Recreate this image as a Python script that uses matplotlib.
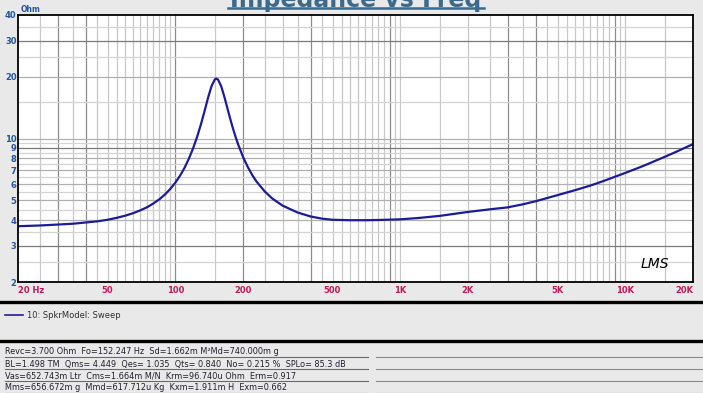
import numpy as np
import matplotlib.pyplot as plt
from matplotlib.lines import Line2D

# impedance curve (Hz, Ohm)
freq = [20, 25, 30, 35, 40, 45, 50, 55, 60, 65, 70, 75, 80, 85, 90, 95, 100,
        105, 110, 115, 120, 125, 130, 135, 140, 145, 150, 152, 155, 160, 165,
        170, 175, 180, 185, 190, 200, 210, 220, 230, 250, 270, 300, 350, 400,
        450, 500, 600, 700, 800, 1000, 1200, 1500, 2000, 2500, 3000, 3500,
        4000, 5000, 6000, 7000, 8000, 10000, 12000, 15000, 17000, 20000]
ohm = [3.74, 3.77, 3.81, 3.845, 3.90, 3.95, 4.02, 4.11, 4.21, 4.33, 4.47, 4.63,
       4.83, 5.06, 5.34, 5.68, 6.09, 6.59, 7.21, 7.99, 8.96, 10.18, 11.72,
       13.64, 15.86, 18.04, 19.44, 19.6, 19.36, 17.99, 16.08, 14.22, 12.62,
       11.31, 10.26, 9.41, 8.14, 7.27, 6.63, 6.16, 5.52, 5.10, 4.71, 4.36,
       4.17, 4.07, 4.02, 4.0, 4.0, 4.01, 4.04, 4.1, 4.2, 4.39, 4.52, 4.62,
       4.78, 4.95, 5.3, 5.61, 5.9, 6.21, 6.8, 7.35, 8.15, 8.66, 9.4]

x_ticks = [20, 50, 100, 200, 500, 1000, 2000, 5000, 10000, 20000]
x_labels = ['20 Hz', '50', '100', '200', '500', '1K', '2K', '5K', '10K', '20K']
y_ticks = [2, 3, 4, 5, 6, 7, 8, 9, 10, 20, 30, 40]

legend_label = '10: SpkrModel: Sweep'
params = [
    'Revc=3.700 Ohm  Fo=152.247 Hz  Sd=1.662m M²Md=740.000m g',
    'BL=1.498 TM  Qms= 4.449  Qes= 1.035  Qts= 0.840  No= 0.215 %  SPLo= 85.3 dB',
    'Vas=652.743m Ltr  Cms=1.664m M/N  Krm=96.740u Ohm  Erm=0.917',
    'Mms=656.672m g  Mmd=617.712u Kg  Kxm=1.911m H  Exm=0.662',
]

W, H = 703, 393
bg = '#e9e9e9'
fig = plt.figure(figsize=(W / 100, H / 100), dpi=100, facecolor=bg)
ax = fig.add_axes([18 / W, 1 - 282 / H, 675 / W, 267 / H])
ax.set_facecolor('white')
ax.set_xscale('log')
ax.set_yscale('log')
ax.set_xlim(20, 20000)
ax.set_ylim(2, 40)

# grid
dark_x = {30, 40, 100, 200, 400, 900, 3000, 4000, 9000}
vgrid = list(range(25, 100, 5)) + list(range(100, 1000, 50)) + \
    list(range(1000, 10000, 500)) + [10000, 15000]
for v in vgrid:
    c = '#8c8c8c' if v in dark_x else '#c8c8c8'
    ax.axvline(v, color=c, lw=0.9, zorder=1)
hgrid = [2.5, 3, 3.5, 4, 4.5, 5, 5.5, 6, 6.5, 7, 7.5, 8, 8.5, 9, 9.5, 10,
         15, 20, 25, 30, 35]
for h in hgrid:
    if h in (3, 9, 30):
        c = '#7a7a7a'
    elif h in (4, 5, 6, 7, 8, 10, 20):
        c = '#b0b0b0'
    else:
        c = '#d4d4d4'
    ax.axhline(h, color=c, lw=0.9, zorder=1)

ax.plot(freq, ohm, color='#1c1c96', lw=1.6, zorder=3)

for s in ax.spines.values():
    s.set_linewidth(1.3)
    s.set_color('black')
    s.set_zorder(5)

ax.tick_params(which='both', length=0)
ax.xaxis.set_minor_locator(plt.NullLocator())
ax.yaxis.set_minor_locator(plt.NullLocator())
ax.set_xticks(x_ticks)
ax.set_xticklabels(x_labels, color='#c0185a', fontsize=6, fontweight='bold')
ax.tick_params(axis='x', pad=3)
ax.get_xticklabels()[0].set_horizontalalignment('left')
ax.get_xticklabels()[-1].set_horizontalalignment('right')
ax.set_yticks(y_ticks)
ax.set_yticklabels([str(v) for v in y_ticks], color='#2455a0', fontsize=6,
                   fontweight='bold')
ax.tick_params(axis='y', pad=1)

fig.text(21 / W, 1 - 12 / H, 'Ohm', color='#2455a0', fontsize=5.5,
         fontweight='bold')
ax.text(0.965, 0.04, 'LMS', transform=ax.transAxes, fontsize=10,
        fontstyle='italic', ha='right', va='bottom', color='black', zorder=6)

# title, clipped at the top like the reference
fig.text(356 / W, 1 - 7 / H, 'Impedance vs Freq', ha='center', va='baseline',
         fontsize=17, fontweight='bold', color='#3b6a8c')
fig.add_artist(Line2D([228 / W, 484 / W], [1 - 7.5 / H, 1 - 7.5 / H],
                      color='#3b6a8c', lw=1.8))

# bottom panels
for yy in (302, 341):
    fig.add_artist(Line2D([0, 1], [1 - yy / H, 1 - yy / H], color='black',
                          lw=2.4))
fig.add_artist(Line2D([5 / W, 23 / W], [1 - 315 / H, 1 - 315 / H],
                      color='#1c1c96', lw=1.2))
fig.text(27 / W, 1 - 315 / H, legend_label, fontsize=6, va='center',
         color='#303030')

rows_y = [352, 364, 376, 388]
for txt, yy in zip(params, rows_y):
    fig.text(5 / W, 1 - yy / H, txt, fontsize=5.9, va='center',
             color='#202030')
    ul = 1 - (yy + 5) / H
    fig.add_artist(Line2D([5 / W, 368 / W], [ul, ul], color='#6a6a6a', lw=0.8))
    fig.add_artist(Line2D([376 / W, 1], [ul, ul], color='#8a8a8a', lw=0.8))

fig.savefig('out.png', dpi=100, facecolor=bg)
